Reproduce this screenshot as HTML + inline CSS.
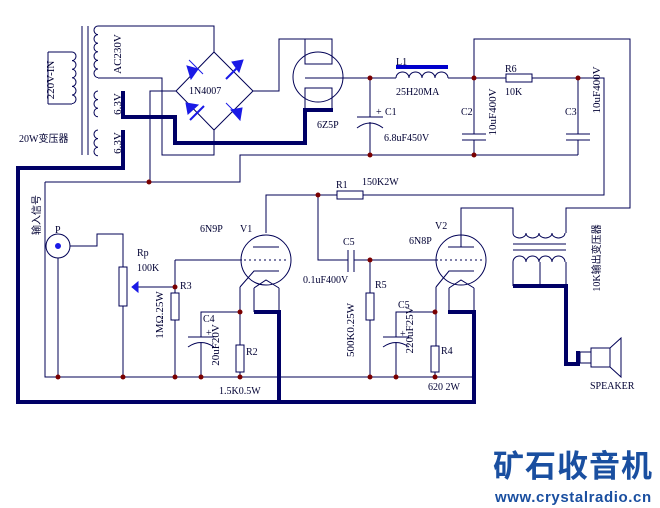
<!DOCTYPE html>
<html><head><meta charset="utf-8"><style>
html,body{margin:0;padding:0;background:#fff;}
svg{display:block;}
text{font-family:"Liberation Serif","Noto Serif CJK SC",serif;fill:#000033;}
.cj{font-family:"Liberation Serif","Noto Sans CJK SC",sans-serif;}
</style></head><body>
<svg width="660" height="508" viewBox="0 0 660 508" xmlns="http://www.w3.org/2000/svg" style="font-size:10px">
<g fill="none" stroke="#000055" stroke-width="1">
<line x1="82" y1="26" x2="82" y2="155"/><line x1="88" y1="26" x2="88" y2="155"/>
<path d="M48 52 H72 M48 52 V104 M48 104 H72"/>
<path d="M72 52 a4 4.3 0 0 1 0 8.6 a4 4.3 0 0 1 0 8.6 a4 4.3 0 0 1 0 8.6 a4 4.3 0 0 1 0 8.6 a4 4.3 0 0 1 0 8.6 a4 4.3 0 0 1 0 8.6"/>
<path d="M98 26 a4 4.3 0 0 0 0 8.6 a4 4.3 0 0 0 0 8.6 a4 4.3 0 0 0 0 8.6 a4 4.3 0 0 0 0 8.6 a4 4.3 0 0 0 0 8.6 a4 4.3 0 0 0 0 8.6"/>
<path d="M98 91 a4 4.3 0 0 0 0 8.6 a4 4.3 0 0 0 0 8.6 a4 4.3 0 0 0 0 8.6"/>
<path d="M98 130 a4 4.3 0 0 0 0 8.6 a4 4.3 0 0 0 0 8.6 a4 4.3 0 0 0 0 8.6"/>
<path d="M98 26 H214 V52 M98 78 H162 V155 H214 V130"/>
<path d="M214 52 L253 91 L214 130 L176 91 Z"/>
<path d="M176 91 H150 V182 M253 91 H279 V39 H305"/>
<circle cx="318" cy="77" r="25"/>
<path d="M305 39 V64 H332 V39 H305 M305 112 V88 H332 V112"/>
<path d="M305 78 H370"/>
<path d="M370 78 H396 M448 78 H506 M532 78 H604 V195 H366"/>
<path d="M396 78 a6.5 6 0 0 1 13 0 a6.5 6 0 0 1 13 0 a6.5 6 0 0 1 13 0 a6.5 6 0 0 1 13 0"/>
<path d="M370 78 V117 M357 117 H383 M357 128 Q370 118 383 128 M370 122 V155"/>
<path d="M474 78 V134 M462 134 H486 M462 140 H486 M474 140 V155"/>
<path d="M578 78 V134 M566 134 H590 M566 140 H590 M578 140 V155"/>
<rect x="506" y="74" width="26" height="8"/>
<path d="M45 182 H240 V155 H578"/>
<path d="M474 78 V39 H630 V208 H566 V233"/>
<path d="M266 233 V195 H337 M363 195 H366"/>
<rect x="337" y="191" width="26" height="8"/>
<path d="M318 195 V260 H348 M354 260 H438"/>
<path d="M348 250 V272 M354 250 V272"/>
<circle cx="266" cy="260" r="25"/>
<path d="M253 247 H279"/>
<path d="M244 260 H289" stroke-dasharray="2 3"/>
<path d="M175 260 H242"/>
<path d="M240 287 L254 271 H279"/>
<path d="M254 288 L266 280 L279 288 M254 288 V312 M279 288 V312"/>
<path d="M240 287 V345 M240 372 V377"/>
<rect x="236" y="345" width="8" height="27"/>
<path d="M240 312 H201 V337 M188 337 H214 M188 347 Q201 338 214 347 M201 342 V377"/>
<path d="M45 182 V377 H474"/>
<circle cx="58" cy="246" r="12"/>
<path d="M58 258 V377 M70 246 H97 V234 H123 V267 M123 306 V377"/>
<rect x="119" y="267" width="8" height="39"/>
<path d="M132 287 H175 V293 M175 320 V377 M175 287 V260"/>
<rect x="171" y="293" width="8" height="27"/>
<circle cx="461" cy="260" r="25"/>
<path d="M448 247 H474 M461 247 V208 H513 V233"/>
<path d="M440 260 H484" stroke-dasharray="2 3"/>
<path d="M436 287 L449 271 H474"/>
<path d="M449 288 L461 280 L474 288 M449 288 V312 M474 288 V312"/>
<path d="M436 287 V346 M435 372 V377"/>
<rect x="431" y="346" width="8" height="26"/>
<path d="M435 312 H396 V337 M383 337 H409 M383 347 Q396 338 409 347 M396 342 V377"/>
<path d="M370 260 V293 M370 320 V377"/>
<rect x="366" y="293" width="8" height="27"/>
<path d="M513 233 a6.5 5 0 0 0 13 0 a6.5 5 0 0 0 13 0 a6.5 5 0 0 0 13 0 a6.5 5 0 0 0 13 0"/>
<path d="M513 244 H566 M513 250 H566"/>
<path d="M513 262 a6.5 6 0 0 1 13 0 a6.5 6 0 0 1 13 0 a6.5 6 0 0 1 13 0 a6.5 6 0 0 1 13 0"/>
<path d="M513 262 V286 M540 262 V286 M566 262 V286"/>
<rect x="580" y="352" width="11" height="11"/>
<rect x="591" y="348" width="19" height="19"/>
<path d="M610 348 L621 338 V377 L610 367"/>
</g>
<g fill="none" stroke="#000066" stroke-width="4">
<path d="M123 91 V117 H175 V143 H305 V110 H333"/>
<path d="M123 130 V168 H18 V402 H474 V312 H448"/>
<path d="M279 402 V312 H254"/>
<path d="M513 286 H566 V364 H578 V351"/>
</g>
<rect x="396" y="65" width="52" height="4" fill="#0000cc"/>
<g fill="#1a1ae6" stroke="#1a1ae6">
<polygon points="187,66 198,69 191,79"/><line x1="189" y1="60" x2="203" y2="74"/>
<polygon points="232,62 243,60 239,72"/><line x1="226" y1="79" x2="240" y2="65" stroke-width="2"/>
<polygon points="188,114 186,103 198,105"/><line x1="190" y1="120" x2="204" y2="106" stroke-width="2"/>
<polygon points="231,110 242,108 240,120"/><line x1="226" y1="103" x2="240" y2="117"/>
<polygon points="132,287 138,282 138,292"/>
<circle cx="58" cy="246" r="2.5"/>
</g>
<g fill="#7a0000">
<circle cx="149" cy="182" r="2.5"/><circle cx="370" cy="78" r="2.5"/><circle cx="474" cy="78" r="2.5"/>
<circle cx="578" cy="78" r="2.5"/><circle cx="370" cy="155" r="2.5"/><circle cx="474" cy="155" r="2.5"/>
<circle cx="318" cy="195" r="2.5"/><circle cx="370" cy="260" r="2.5"/><circle cx="175" cy="287" r="2.5"/>
<circle cx="240" cy="312" r="2.5"/><circle cx="435" cy="312" r="2.5"/>
<circle cx="58" cy="377" r="2.5"/><circle cx="123" cy="377" r="2.5"/><circle cx="175" cy="377" r="2.5"/>
<circle cx="201" cy="377" r="2.5"/><circle cx="240" cy="377" r="2.5"/><circle cx="370" cy="377" r="2.5"/>
<circle cx="396" cy="377" r="2.5"/><circle cx="435" cy="377" r="2.5"/>
</g>
<text transform="translate(54,80) rotate(-90)" text-anchor="middle" style="font-size:11px">220V-IN</text>
<text transform="translate(121,54) rotate(-90)" text-anchor="middle" style="font-size:11px">AC230V</text>
<text transform="translate(121,104) rotate(-90)" text-anchor="middle" style="font-size:11px">6.3V</text>
<text transform="translate(121,143) rotate(-90)" text-anchor="middle" style="font-size:11px">6.3V</text>
<text x="19" y="142" class="cj">20W变压器</text>
<text x="189" y="94">1N4007</text>
<text x="317" y="128">6Z5P</text>
<text x="396" y="65">L1</text>
<text x="396" y="95">25H20MA</text>
<text x="376" y="115">+</text><text x="385" y="115">C1</text>
<text x="384" y="141">6.8uF450V</text>
<text x="461" y="115">C2</text>
<text transform="translate(496,112) rotate(-90)" text-anchor="middle" style="font-size:11px">10uF400V</text>
<text x="505" y="72">R6</text><text x="505" y="95">10K</text>
<text x="565" y="115">C3</text>
<text transform="translate(600,90) rotate(-90)" text-anchor="middle" style="font-size:11px">10uF400V</text>
<text x="336" y="188">R1</text><text x="362" y="185">150K2W</text>
<text transform="translate(40,215) rotate(-90)" text-anchor="middle" class="cj">输入信号</text>
<text x="55" y="233">P</text>
<text x="137" y="256">Rp</text><text x="137" y="271">100K</text>
<text x="180" y="289">R3</text>
<text transform="translate(163,315) rotate(-90)" text-anchor="middle" style="font-size:11px">1MΩ.25W</text>
<text x="200" y="232">6N9P</text><text x="240" y="232">V1</text>
<text x="203" y="322">C4</text><text x="206" y="336">+</text>
<text transform="translate(219,345) rotate(-90)" text-anchor="middle" style="font-size:11px">20uF20V</text>
<text x="246" y="355">R2</text>
<text x="219" y="394">1.5K0.5W</text>
<text x="343" y="245">C5</text>
<text x="303" y="283">0.1uF400V</text>
<text x="375" y="288">R5</text>
<text transform="translate(354,330) rotate(-90)" text-anchor="middle" style="font-size:11px">500K0.25W</text>
<text x="409" y="244">6N8P</text><text x="435" y="229">V2</text>
<text x="398" y="308">C5</text><text x="400" y="337">+</text>
<text transform="translate(413,330) rotate(-90)" text-anchor="middle" style="font-size:11px">220uF25V</text>
<text x="441" y="354">R4</text>
<text x="428" y="390">620 2W</text>
<text transform="translate(600,258) rotate(-90)" text-anchor="middle" class="cj">10K输出变压器</text>
<text x="590" y="389">SPEAKER</text>
<text x="493" y="477" style="font-family:'Noto Sans CJK SC',sans-serif;fill:#1a4fa0;font-size:31px;font-weight:bold;letter-spacing:1px">矿石收音机</text>
<text x="495" y="502" style="font-family:'Liberation Sans',sans-serif;fill:#1a4fa0;font-size:15px;font-weight:bold;letter-spacing:0.6px">www.crystalradio.cn</text>
</svg>
</body></html>
